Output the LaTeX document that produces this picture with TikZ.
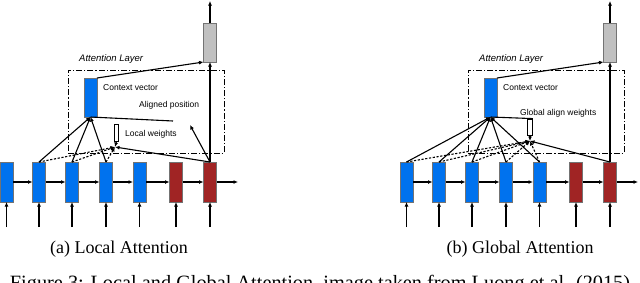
\documentclass[tikz,border=0pt]{standalone}
\usepackage{fontspec}
\setmainfont{Liberation Serif}
\setsansfont{Liberation Sans}
\usetikzlibrary{arrows.meta,positioning}
\definecolor{cellblue}{RGB}{0,114,238}
\definecolor{cellred}{RGB}{160,36,36}
\definecolor{cellgray}{RGB}{192,192,192}

\begin{document}
\begin{tikzpicture}[
  x=1pt, y=-1pt,
  cell/.style={draw=black!55, line width=0.8pt, minimum width=13pt, minimum height=40pt, inner sep=0pt, outer sep=0pt},
  wbox/.style={draw=black, line width=0.8pt, fill=white, minimum width=4.5pt, minimum height=17pt, inner sep=0pt},
  lbl/.style={font=\sffamily\fontsize{8.5}{10}\selectfont, inner sep=0pt, anchor=west},
  ttl/.style={lbl, font=\sffamily\itshape\fontsize{9.5}{11}\selectfont},
  captxt/.style={font=\fontsize{18}{20}\selectfont, inner sep=0pt, anchor=base},
  flow/.style={-{Latex[length=4.5pt,width=4pt]}, line width=1.1pt, draw=black},
  weight/.style={flow, dash pattern=on 2.2pt off 1.6pt},
  attbox/.style={draw, line width=1pt, dash pattern=on 6pt off 2pt on 1.2pt off 2pt, minimum width=156pt, minimum height=83pt, inner sep=0pt},
]
\useasboundingbox (0,0) rectangle (640,282);

% (a) local attention
\node[attbox] (latt) at (146,111.5) {};
\node[ttl] (lattlbl) at (79,59) {Attention Layer};

\foreach \x/\c [count=\i] in {6.5/cellblue,39/cellblue,72/cellblue,106/cellblue,139.5/cellblue,176/cellred,210/cellred}{
  \node[cell, fill=\c] (lh\i) at (\x,182) {};
  \coordinate (lin\i) at (\x,227);
  \draw[flow] (lin\i) -- (lh\i);
}
\foreach \i [evaluate=\i as \j using int(\i+1)] in {1,...,6}
  \draw[flow] (lh\i) -- (lh\j);
\coordinate (lend) at (238,182);
\draw[flow] (lh7) -- (lend);

\node[cell, fill=cellgray, minimum height=39pt] (lout) at (210,42.5) {};
\coordinate (ltop) at (210,1);
\draw[flow] (lout) -- (ltop);
\draw[flow] (lh7) -- (lout);

\node[cell, fill=cellblue, minimum height=39pt] (lctx) at (90.5,97.5) {};
\node[lbl] (lctxlbl) at (103,88) {Context vector};
\draw[flow] (lctx.north east) -- (lout.south west);
\foreach \i in {2,3,4}
  \draw[flow] (lh\i.north) -- (lctx.south);

% aligned position
\coordinate (lpos) at (173,121);
\coordinate (lposarr) at (190,125);
\node[lbl] (lposlbl) at (139,105) {Aligned position};
\draw[line width=1.1pt] (lctx.south) -- (lpos);
\draw[flow] (lh7.north) -- (lposarr);

% local weights
\node[wbox] (lw) at (116.5,132.5) {};
\node[lbl] (lwlbl) at (125,134.5) {Local weights};
\coordinate (lpt) at (115,147);
\draw[flow] (lw.south) -- (lpt);
\foreach \i in {2,3,4}
  \draw[weight] (lh\i.north) -- (lpt);
\draw[flow] (lh7.north) -- (lpt);

\node[captxt] (lcap) at (119,253.5) {(a) Local Attention};

% (b) global attention
\node[attbox] (gatt) at (546,111.5) {};
\node[ttl] (gattlbl) at (479,59) {Attention Layer};

\foreach \x/\c [count=\i] in {406.5/cellblue,439/cellblue,472/cellblue,506/cellblue,539.5/cellblue,576/cellred,610/cellred}{
  \node[cell, fill=\c] (gh\i) at (\x,182) {};
  \coordinate (gin\i) at (\x,227);
  \draw[flow] (gin\i) -- (gh\i);
}
\foreach \i [evaluate=\i as \j using int(\i+1)] in {1,...,6}
  \draw[flow] (gh\i) -- (gh\j);
\coordinate (gend) at (638,182);
\draw[flow] (gh7) -- (gend);

\node[cell, fill=cellgray, minimum height=39pt] (gout) at (610,42.5) {};
\coordinate (gtop) at (610,1);
\draw[flow] (gout) -- (gtop);
\draw[flow] (gh7) -- (gout);

\node[cell, fill=cellblue, minimum height=39pt] (gctx) at (490.5,97.5) {};
\node[lbl] (gctxlbl) at (503,88) {Context vector};
\draw[flow] (gctx.north east) -- (gout.south west);
\foreach \i in {1,...,5}
  \draw[flow] (gh\i.north) -- (gctx.south);

% global align weights
\node[wbox, minimum width=5pt, minimum height=16pt] (gw) at (530,127) {};
\node[lbl] (gwlbl) at (520,113) {Global align weights};
\draw[line width=1.1pt] (gctx.south) -- (gw.north east);
\coordinate (gpt) at (530,141);
\draw[flow] (gw.south) -- (gpt);
\foreach \i in {1,...,5}
  \draw[weight] (gh\i.north) -- (gpt);
\draw[flow] (gh7.north) -- (gpt);

\node[captxt] (gcap) at (520,253.5) {(b) Global Attention};

% figure caption, cut by the page edge
\node[captxt, font=\fontsize{20.3}{22}\selectfont] (figcap) at (320,289.5) {Figure 3: Local and Global Attention, image taken from Luong et al. (2015)};
\end{tikzpicture}
\end{document}
